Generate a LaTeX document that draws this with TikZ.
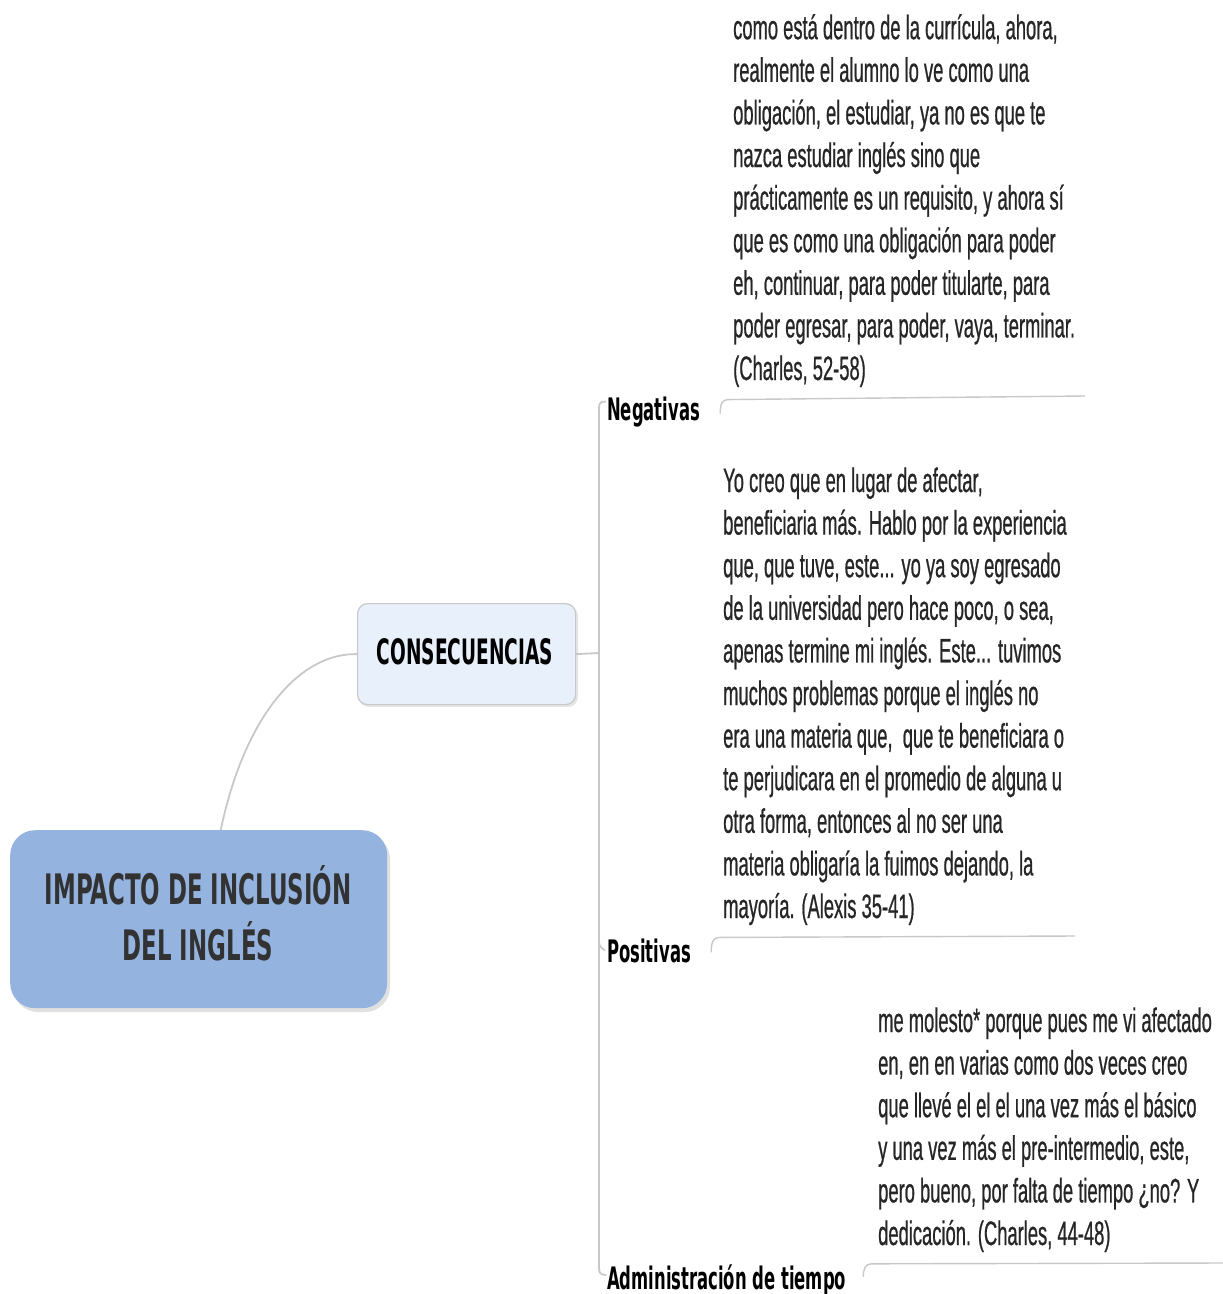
\documentclass[tikz,border=0pt]{standalone}
\usepackage{fontspec}
\setmainfont{Liberation Sans}
\newfontfamily\bodyfont[FakeStretch=0.54,FakeBold=0.6]{Liberation Sans}
\newfontfamily\labfont[FakeStretch=0.53]{DejaVu Sans Bold}
\newfontfamily\rootfont[FakeStretch=0.545]{DejaVu Sans Bold}
\definecolor{rootfill}{RGB}{149,179,223}
\definecolor{consfill}{RGB}{232,240,252}
\definecolor{linegray}{RGB}{200,200,200}
\definecolor{bodytext}{RGB}{38,38,38}
\definecolor{roottext}{RGB}{50,50,50}
\tikzset{
  conn/.style={draw=linegray, line width=1.8pt},
  bodyblock/.style={inner sep=0pt, align=left, text=bodytext, anchor=base west,
    font=\bodyfont\fontsize{34}{42.6}\selectfont},
  branchlab/.style={inner sep=0pt, anchor=base west, text=black,
    font=\labfont\fontsize{31}{36}\selectfont},
}
\begin{document}
\begin{tikzpicture}[x=1pt,y=-1pt]
\useasboundingbox (0,0) rectangle (1223,1294);
% shadows
\fill[black!12, rounded corners=25pt] (13,834) rectangle (390,1012);
\fill[black!10, rounded corners=10pt] (359,606) rectangle (578,707);
% root
\node[fill=rootfill, rounded corners=25pt, minimum width=377pt, minimum height=178pt, inner sep=0pt, anchor=north west] (root) at (10,830) {};
\node[inner sep=0pt, anchor=base, text=roottext, font=\rootfont\fontsize{42}{50}\selectfont] (rootl1) at (198,904) {IMPACTO DE INCLUSIÓN};
\node[inner sep=0pt, anchor=base, text=roottext, font=\rootfont\fontsize{42}{50}\selectfont] (rootl2) at (198,960) {DEL INGLÉS};
% consecuencias
\node[fill=consfill, draw=linegray, line width=1.2pt, rounded corners=10pt, minimum width=218pt, minimum height=101pt, inner sep=0pt, anchor=north west] (cons) at (357,603) {};
\node[inner sep=0pt, anchor=base, text=black, font=\labfont\fontsize{35}{40}\selectfont] (consl) at (465,664) {CONSECUENCIAS};
% root -> cons
\draw[conn] ([xshift=22pt]root.north) .. controls (245,715) and (300,653) .. (cons.west);
% labels
\node[branchlab] (neg) at (607,420) {Negativas};
\node[branchlab] (pos) at (607,962) {Positivas};
\node[branchlab] (adm) at (607,1289) {Administración de tiempo};
% trunk
\coordinate (tj) at (599,653);
\draw[conn] (cons.east) -- (tj);
\draw[conn] ([xshift=-1pt,yshift=10pt]neg.west) .. controls (599,402) .. (599,414) -- (599,1262) .. controls (599,1274) .. (606,1275);
\draw[conn] (599,938) .. controls (599,946) .. ([xshift=-2pt]pos.west);
% text blocks (anchored at the baseline of their last line)
\node[bodyblock] (t1) at (733,380) {como está dentro de la currícula, ahora,\\
realmente el alumno lo ve como una\\
obligación, el estudiar, ya no es que te\\
nazca estudiar inglés sino que\\
prácticamente es un requisito, y ahora sí\\
que es como una obligación para poder\\
eh, continuar, para poder titularte, para\\
poder egresar, para poder, vaya, terminar.\\
(Charles, 52-58)};
\node[bodyblock] (t2) at (723,918) {Yo creo que en lugar de afectar,\\
beneficiaria más. Hablo por la experiencia\\
que, que tuve, este... yo ya soy egresado\\
de la universidad pero hace poco, o sea,\\
apenas termine mi inglés. Este... tuvimos\\
muchos problemas porque el inglés no\\
era una materia que,\ \ que te beneficiara o\\
te perjudicara en el promedio de alguna u\\
otra forma, entonces al no ser una\\
materia obligaría la fuimos dejando, la\\
mayoría. (Alexis 35-41)};
\node[bodyblock] (t3) at (878,1245) {me molesto* porque pues me vi afectado\\
en, en en varias como dos veces creo\\
que llevé el el el una vez más el básico\\
y una vez más el pre-intermedio, este,\\
pero bueno, por falta de tiempo ¿no? Y\\
dedicación. (Charles, 44-48)};
% underlines with ticks
\coordinate (e1) at (1085,396);
\coordinate (e2) at (1075,936);
\coordinate (e3) at (1223,1263);
\draw[conn, line width=1.4pt] ([xshift=20pt,yshift=-2pt]neg.east) .. controls +(0,-10) and +(-6,0) .. ++(8,-14) coordinate (n1) -- (e1);
\draw[conn, line width=1.4pt] ([xshift=20pt,yshift=-2pt]pos.east) .. controls +(0,-10) and +(-6,0) .. ++(8,-15) coordinate (p1) -- (e2);
\draw[conn, line width=1.4pt] ([xshift=17pt,yshift=3pt]adm.east) .. controls +(0,-8) and +(-6,0) .. ++(8,-13) coordinate (a1) -- (e3);
\end{tikzpicture}
\end{document}
